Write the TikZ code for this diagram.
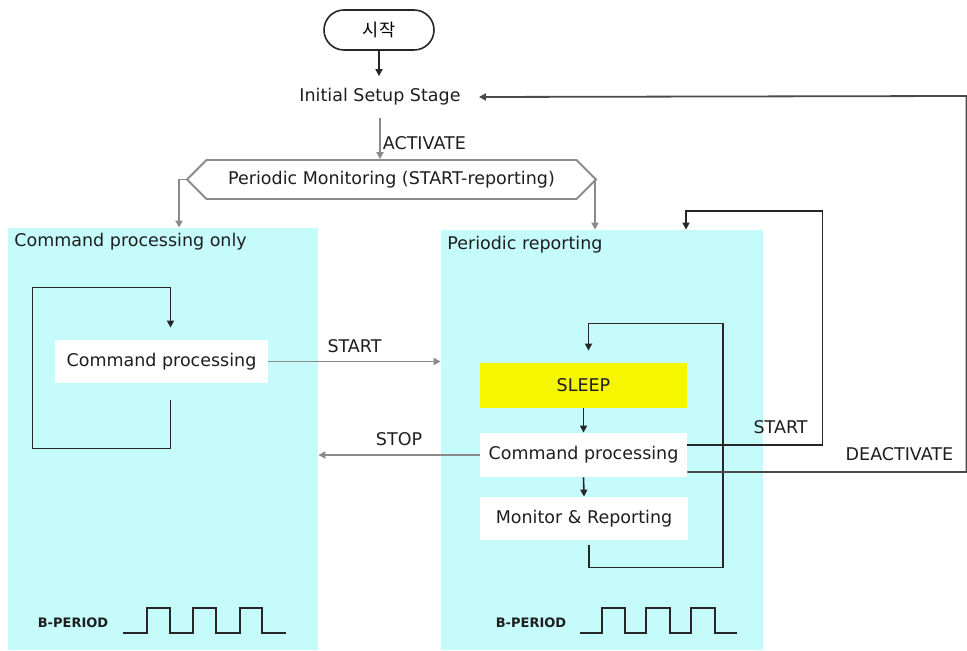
\documentclass[tikz,border=0pt]{standalone}
\usepackage{fontspec}
\setmainfont{DejaVu Sans}
\newfontfamily\krfont{Noto Sans CJK KR}
\usetikzlibrary{arrows.meta, shapes.misc, shapes.symbols}
\definecolor{panelcyan}{HTML}{C6FBFB}
\definecolor{sleepyellow}{HTML}{F6F600}
\definecolor{linegray}{HTML}{8A8A8A}
\definecolor{linedark}{HTML}{262626}
\definecolor{linemid}{HTML}{4A4A4A}
\definecolor{txtdark}{HTML}{1E1E1E}

\tikzset{
  tip/.style={-{Triangle[length=3.5pt, width=3.5pt]}},
  grayline/.style={draw=linegray, line width=0.9pt},
  darkline/.style={draw=linedark, line width=0.8pt},
  panel/.style={fill=panelcyan, draw=none, inner sep=0pt},
  procbox/.style={fill=white, draw=none, inner sep=0pt, text=txtdark},
  lbl/.style={text=txtdark, inner sep=1pt},
  bplbl/.style={font=\fontsize{6.5}{7}\selectfont\bfseries, text=txtdark, inner sep=0pt}
}

\begin{document}
\begin{tikzpicture}[x=0.5pt, y=-0.5pt, font=\fontsize{8.75}{10}\selectfont]

\useasboundingbox (0,0) rectangle (967,651);

% Panels
\node[panel, minimum width=155pt, minimum height=211pt] (cmdonly) at (163,439) {};
\node[panel, minimum width=161pt, minimum height=210pt] (periodic) at (602,440) {};
\node[lbl, anchor=west] (cmdonlytitle) at (12,242) {Command processing only};
\node[lbl, anchor=west] (periodictitle) at (445,245) {Periodic reporting};

% Start
\node[rounded rectangle, draw=linedark, line width=0.8pt, minimum width=55pt,
      minimum height=20pt, inner sep=0pt] (start) at (379,30) {\krfont 시작};

% Initial setup
\node[lbl, inner ysep=6pt] (init) at (380,97) {Initial Setup Stage};

% Periodic monitoring
\node[signal, signal to=west and east, draw=linegray, line width=0.9pt,
      minimum width=204.5pt, minimum height=19.5pt, inner sep=0pt, text=txtdark]
      (mon) at (391.5,179.5) {Periodic Monitoring (START-reporting)};

% Boxes
\node[procbox, minimum width=106.5pt, minimum height=21.5pt] (cmd1) at (161.5,361.5) {Command processing};
\node[procbox, fill=sleepyellow, minimum width=103.5pt, minimum height=22.5pt] (sleep) at (583.5,385.5) {SLEEP};
\node[procbox, minimum width=103.5pt, minimum height=22pt] (cmd2) at (583.5,455) {Command processing};
\node[procbox, minimum width=104pt, minimum height=21.5pt] (mon2) at (584,518.5) {Monitor \& Reporting};

% Top flow
\draw[darkline, tip] (start.south) -- (start.south |- init.north);
\draw[grayline, tip] (init.south) -- node[pos=0.62, right, lbl] {ACTIVATE} (init.south |- mon.north);
\draw[grayline, tip] (mon.west) -| ([xshift=8pt]cmdonly.north);
\draw[grayline, tip] (mon.east) -| ([xshift=-3.5pt]periodic.north);

% Command processing only loop
\draw[darkline, tip] ([xshift=4.5pt, yshift=-8.5pt]cmd1.south) -- ++(0,48) -| ++(-138,-161)
      -| ([xshift=4.5pt, yshift=6pt]cmd1.north);

% START / STOP
\draw[grayline, tip] (cmd1.east) -- node[above=3pt, lbl] {START} (periodic.west |- cmd1.east);
\draw[grayline, tip] (cmd2.west) -- node[above=3pt, lbl] {STOP} (cmdonly.east |- cmd2.west);

% Periodic reporting loop
\draw[darkline, tip] (sleep.south) -- (cmd2.north);
\draw[darkline, tip] (cmd2.south) -- (mon2.north);
\draw[darkline, tip] ([xshift=2.5pt, yshift=-2.5pt]mon2.south) -- ++(0,22) -| ++(134,-244)
      -| ([xshift=2.5pt, yshift=6pt]sleep.north);

% START back to periodic reporting
\draw[darkline, tip] ([yshift=5pt]cmd2.east) -- node[pos=0.69, above=4pt, lbl] {START} ++(135,0)
      -- ++(0,-234) -| ([xshift=42pt]periodic.north);

% DEACTIVATE back to initial setup
\draw[linemid, line width=0.9pt, tip] ([yshift=-8.5pt]cmd2.east) -- node[pos=0.76, above=4pt, lbl] {DEACTIVATE} ++(279,0)
      -- ++(0,-376) -- ([xshift=8pt]init.east);

% B-PERIOD
\node[bplbl] (bpleft) at (73,623) {B-PERIOD};
\draw[darkline] (123,633) -| (147,608) -| (170,633) -| (193,608) -| (216,633) -| (240,608) -| (262,633) -- (286,633);
\node[bplbl] (bpright) at (531,623) {B-PERIOD};
\draw[darkline] (580,633) -| (602,608) -| (625,633) -| (646,608) -| (670,633) -| (691,608) -| (715,633) -- (737,633);

\end{tikzpicture}
\end{document}
